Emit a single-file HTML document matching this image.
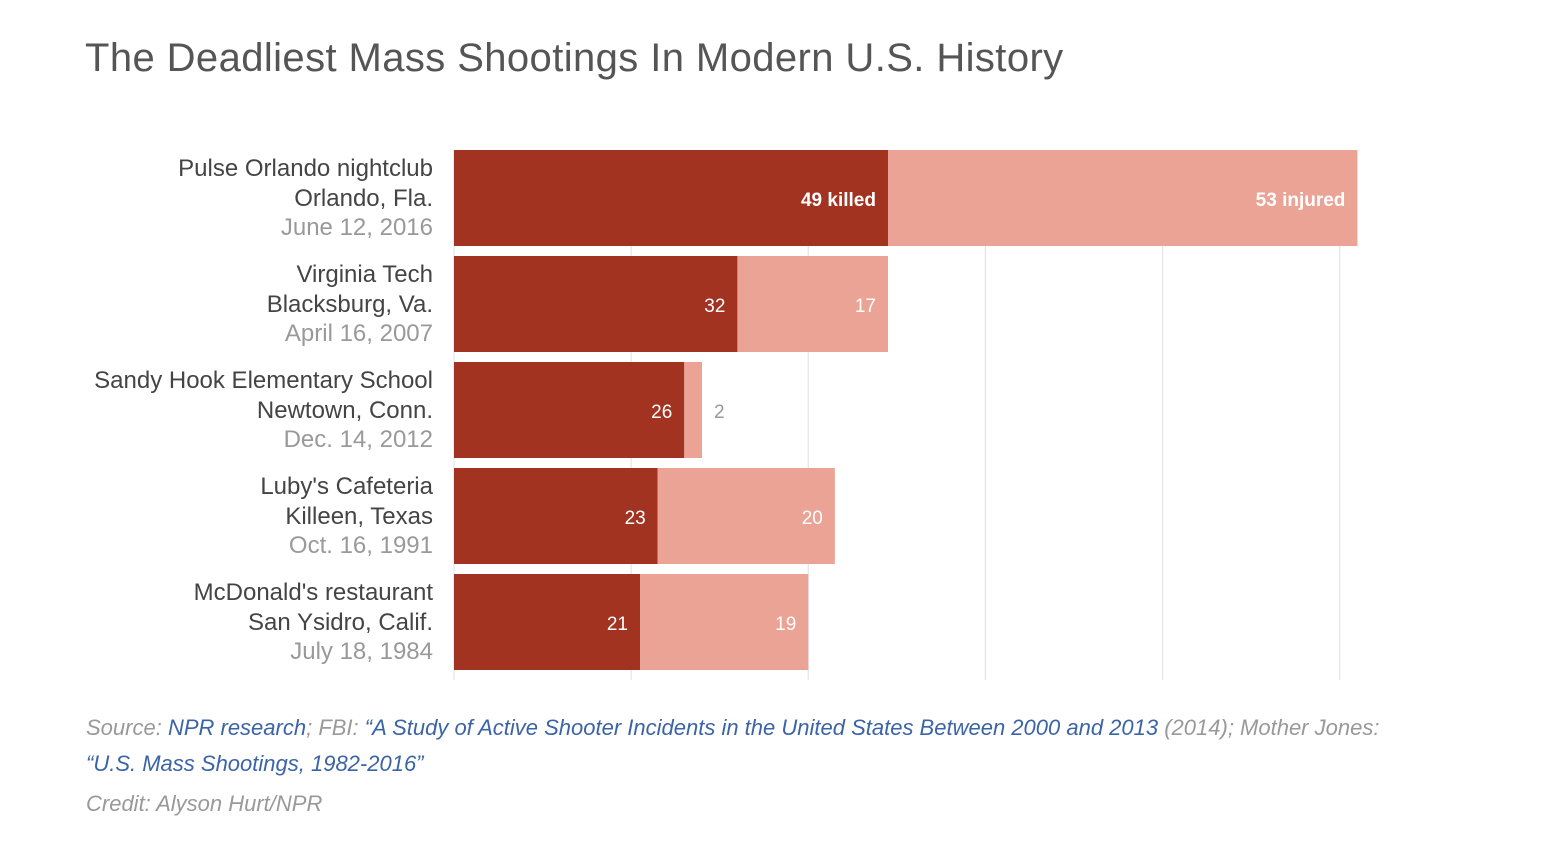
<!DOCTYPE html>
<html><head><meta charset="utf-8"><style>
body{margin:0;width:1560px;height:866px;background:#fff;font-family:"Liberation Sans",sans-serif;overflow:hidden;position:relative}
#title{position:absolute;left:85px;top:36px;font-size:40px;color:#555;letter-spacing:0.4px}
.foot{position:absolute;left:86px;font-size:22px;font-style:italic;color:#999;white-space:nowrap;letter-spacing:0px}
.foot a{color:#3b64a6;text-decoration:none}
</style></head><body>
<div id="title">The Deadliest Mass Shootings In Modern U.S. History</div>
<svg id="chart" width="1560" height="866" style="position:absolute;left:0;top:0"></svg>
<div class="foot" style="top:715px">Source: <a href="#">NPR research</a>; FBI: <a href="#">“A Study of Active Shooter Incidents in the United States Between 2000 and 2013</a> (2014); Mother Jones:</div>
<div class="foot" style="top:751px"><a href="#">“U.S. Mass Shootings, 1982-2016”</a></div>
<div class="foot" style="top:791px">Credit: Alyson Hurt/NPR</div>
<script>
const names=["Pulse Orlando nightclub","Virginia Tech","Sandy Hook Elementary School","Luby's Cafeteria","McDonald's restaurant"];
const places=["Orlando, Fla.","Blacksburg, Va.","Newtown, Conn.","Killeen, Texas","San Ysidro, Calif."];
const dates=["June 12, 2016","April 16, 2007","Dec. 14, 2012","Oct. 16, 1991","July 18, 1984"];
const killed=[49,32,26,23,21];
const injured=[53,17,2,20,19];
const ticks=[0,20,40,60,80,100];
const NS="http://www.w3.org/2000/svg";
const svg=document.getElementById('chart');
const x0=454,scale=8.857;
const X=v=>x0+v*scale;
const Y=i=>150+i*106;
const bh=96;
function mk(t,a){const e=document.createElementNS(NS,t);for(const k in a)e.setAttribute(k,a[k]);svg.appendChild(e);return e;}
ticks.forEach(t=>{
 const l=mk('line',{x1:X(t),x2:X(t),y1:150,y2:680,stroke:'#e4e4e4','stroke-width':1.2});
 
 
});
names.forEach((n,i)=>{
 const y=Y(i);
 const k=mk('rect',{x:X(0),y:y,width:killed[i]*scale,height:bh,fill:'#a23321'});
 
 
 const r=mk('rect',{x:X(killed[i]),y:y,width:injured[i]*scale,height:bh,fill:'#eaa394'});
 
 
 const kt=mk('text',{x:X(killed[i])-12,y:y+56,'text-anchor':'end',fill:'#fff','font-size':19,'font-weight':i==0?'bold':'normal'});
 kt.textContent=killed[i]+(i==0?' killed':'');
 
 
 const small=injured[i]*scale<40;
 const it=mk('text',{x:small?X(killed[i]+injured[i])+12:X(killed[i]+injured[i])-12,y:y+56,'text-anchor':small?'start':'end',fill:small?'#999':'#fff','font-size':19,'font-weight':i==0?'bold':'normal'});
 it.textContent=injured[i]+(i==0?' injured':'');
 
 
 [[n,'#444',26],[places[i],'#444',56],[dates[i],'#999',85]].forEach((d,j)=>{
  const t=mk('text',{x:433,y:y+d[2],'text-anchor':'end',fill:d[1],'font-size':24});
  t.textContent=d[0];
  
  
 });
});
</script>
</body></html>
